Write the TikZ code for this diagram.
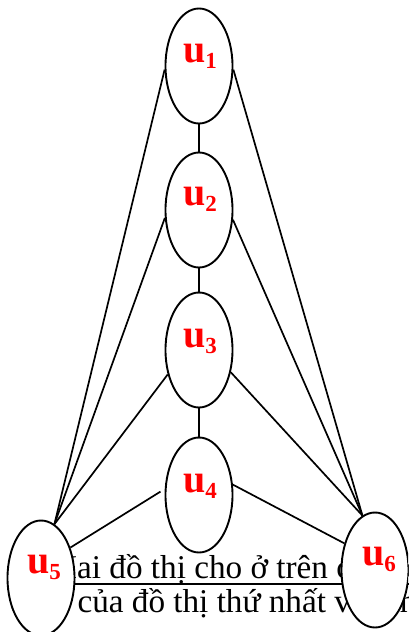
\documentclass[tikz,border=0pt]{standalone}
\usepackage{fontspec}
\setmainfont{Liberation Serif}
\usetikzlibrary{shapes.geometric,backgrounds}

\tikzset{
  vert/.style={ellipse, draw=black, fill=white, line width=1.9pt,
    minimum width=67pt, minimum height=115pt, inner sep=0pt},
  edge/.style={draw=black, line width=1.7pt},
  lab/.style={anchor=base, inner sep=0pt, text=red, font=\bfseries},
  body/.style={anchor=base west, inner sep=0pt, font=\fontsize{33.2}{35}\selectfont}
}
\newcommand{\vlab}[1]{{\fontsize{40}{40}\selectfont u}{\fontsize{23}{23}\selectfont\raisebox{-6pt}{#1}}}

\begin{document}
\begin{tikzpicture}[x=1pt, y=-1pt]
  \useasboundingbox (0,0) rectangle (408,632);
  \clip (0,0) rectangle (408,632);

  % vertices
  \node[vert] (u1) at (199,66) {};
  \node[vert] (u2) at (199,210) {};
  \node[vert] (u3) at (199,350) {};
  \node[vert] (u4) at (199,495) {};
  \node[vert] (u5) at (41,578) {};
  \node[vert] (u6) at (375,570) {};

  % vertex labels
  \node[lab] (t1) at (200,62) {\vlab{1}};
  \node[lab] (t2) at (200,205) {\vlab{2}};
  \node[lab] (t3) at (200,347) {\vlab{3}};
  \node[lab] (t4) at (200,492) {\vlab{4}};
  \node[lab] (t5) at (44,573) {\vlab{5}};
  \node[lab] (t6) at (379,565) {\vlab{6}};

  \begin{pgfonlayer}{background}
    \fill[white] (0,0) rectangle (408,632);
    % two lines of body text running under the bottom vertices
    \node[body] (l1) at (53,578) {Hai đồ thị cho ở trên có các đỉnh};
    \draw[line width=1.4pt] ([yshift=-6pt]l1.base west) -- ([yshift=-6pt]l1.base east);
    \node[body] (l2) at (10,612) {đỉnh của đồ thị thứ nhất và đỉnh};

    % edges
    \path[edge] (u1.south) -- (u2.north);
    \path[edge] (u2.south) -- (u3.north);
    \path[edge] (u3.south) -- (u4.north);
    \path[edge] (u1.186) -- (u5.76);
    \path[edge] (u1.354) -- (u6.103);
    \path[edge] (u2.193) -- (u5.76);
    \path[edge] (u2.344) -- (u6.103);
    \path[edge] (u3.218) -- (u5.76);
    \path[edge] (u3.325) -- (u6.103);
    \path[edge, shorten <=5pt] (u4.170) -- (u5.46);
    \path[edge] (u4.17) -- (u6.139);
  \end{pgfonlayer}
\end{tikzpicture}
\end{document}
